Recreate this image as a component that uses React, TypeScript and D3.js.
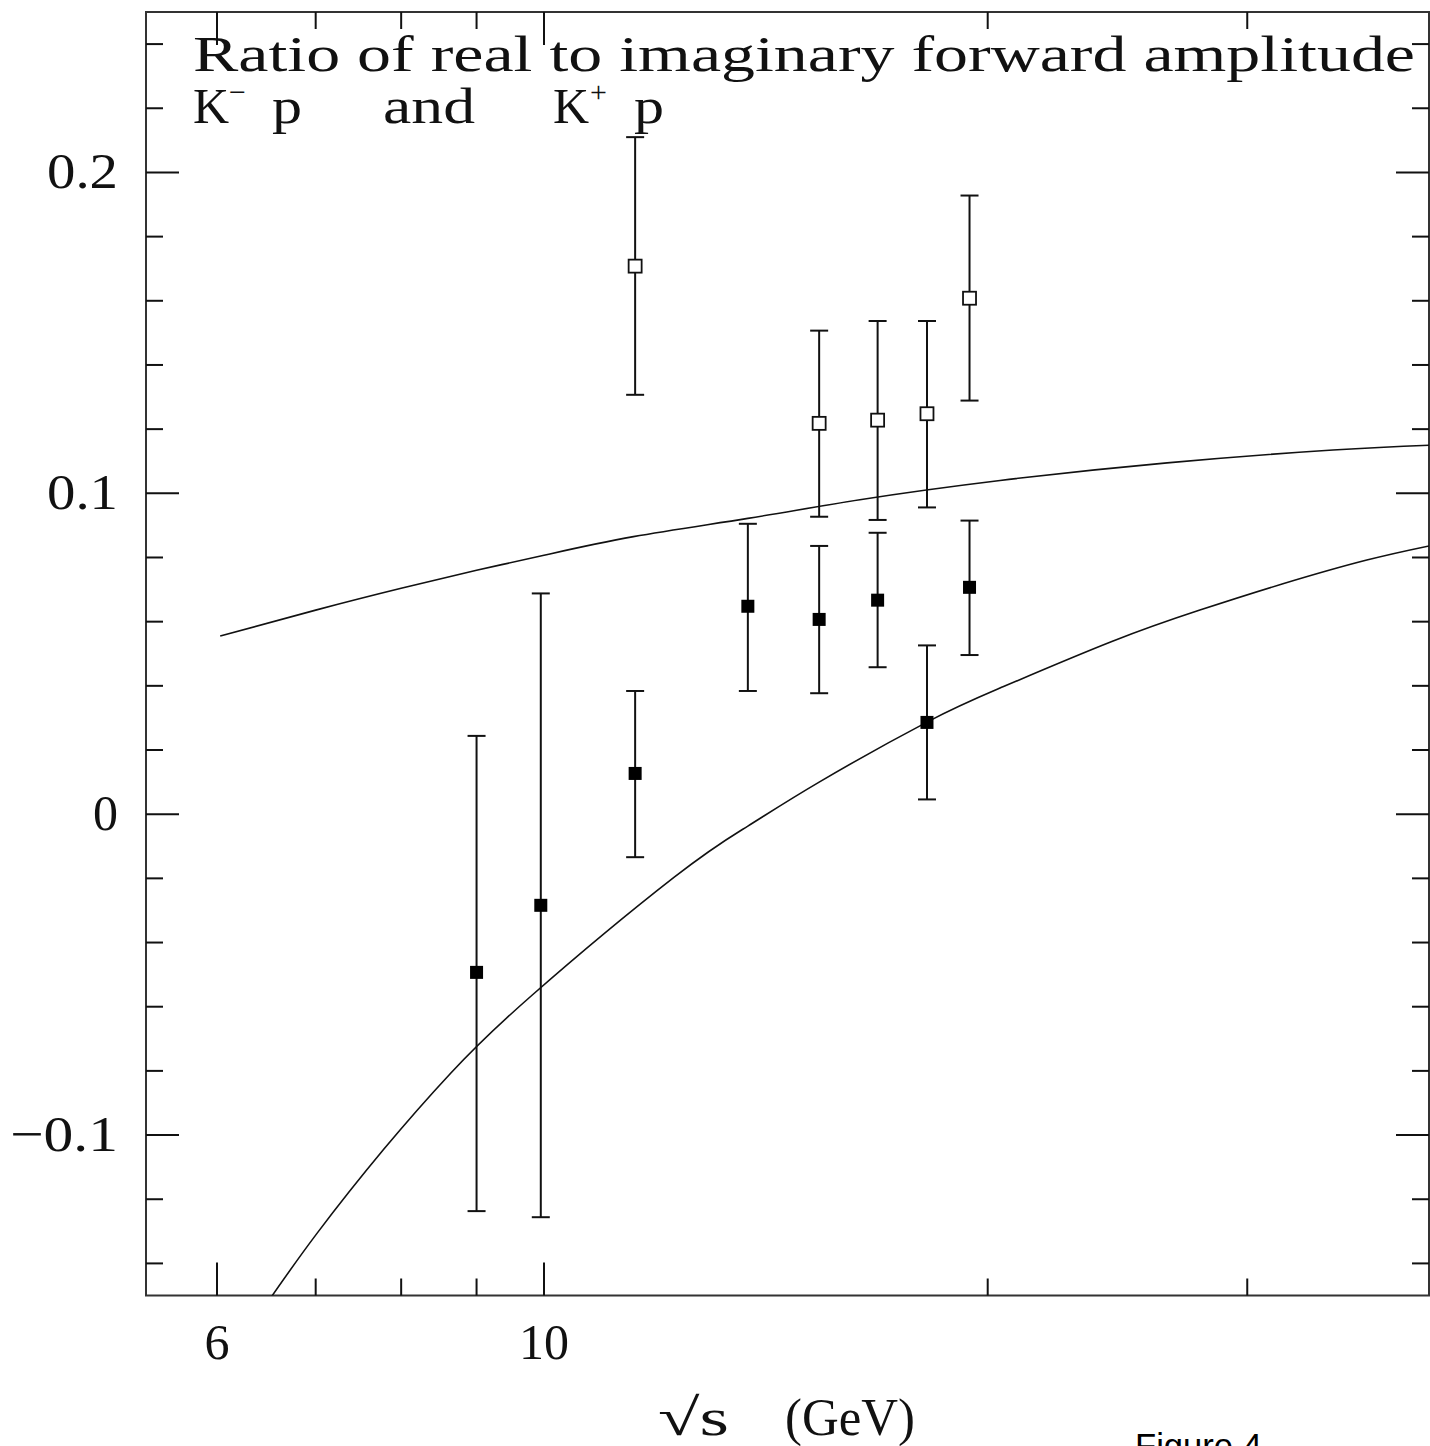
import React from 'react';
import * as d3 from 'd3';

// sqrt(s) in GeV for the measured points
const solidS = [9.0, 9.95, 11.53, 13.75, 15.37, 16.84, 18.19, 19.44];
const solidRho = [-0.0493, -0.0284, 0.0127, 0.0648, 0.0607, 0.0667, 0.0286, 0.0707];
const solidHi = [0.0244, 0.0688, 0.0384, 0.0905, 0.0836, 0.0877, 0.0526, 0.0915];
const solidLo = [-0.1237, -0.1256, -0.0134, 0.0384, 0.0377, 0.0458, 0.0046, 0.0496];

const openS = [11.53, 15.37, 16.84, 18.19, 19.44];
const openRho = [0.1708, 0.1218, 0.1228, 0.1248, 0.1608];
const openHi = [0.211, 0.1507, 0.1537, 0.1537, 0.1928];
const openLo = [0.1307, 0.0927, 0.0917, 0.0956, 0.1289];

// model curves
const upperS = [6.03, 7.0, 8.0, 9.0, 10.0, 11.5, 13.75, 16.38, 20.39, 26.47, 34.3, 39.85];
const upperRho = [0.0555, 0.0636, 0.0704, 0.076, 0.0807, 0.0865, 0.0922, 0.098, 0.104, 0.1095, 0.1135, 0.115];
const lowerS = [6.53, 7.01, 7.78, 8.64, 9.81, 12.25, 13.75, 15.37, 18.19, 20.39, 24.28, 27.86, 31.72, 36.16, 39.85];
const lowerRho = [-0.1505, -0.1308, -0.1046, -0.0808, -0.0565, -0.0197, -0.0037, 0.01, 0.0287, 0.0393, 0.0538, 0.0636, 0.0718, 0.0792, 0.0836];

const xMajor = [6, 10];
const xMinor = [7, 8, 9, 20, 30];
const yMajor = [-0.1, 0, 0.1, 0.2];
const yLabels = ['\u22120.1', '0', '0.1', '0.2'];
const yLabelWidths = [108, 25, 71, 71];

const W = 1430;
const H = 1446;
const left = 146, right = 1429, top = 12, bottom = 1295.5;
const FONT = '"Liberation Serif", "Times New Roman", serif';

const App: React.FC = () => {
  const x = d3.scaleLog().domain([5.37, 39.85]).range([left, right]);
  const y = d3.scaleLinear().domain([-0.15, 0.25]).range([bottom, top]);

  const yAll = d3.range(-7, 13).map(i => Math.round(i * 2) / 100);

  const line = d3.line<[number, number]>()
    .x(d => x(d[0]))
    .y(d => y(d[1]))
    .curve(d3.curveNatural);

  const upper = line(upperS.map((s, i) => [s, upperRho[i]] as [number, number])) || '';
  const lower = line(lowerS.map((s, i) => [s, lowerRho[i]] as [number, number])) || '';

  const cap = 9;
  const sq = 13;
  const major = 33;
  const minor = 17;
  const ink = '#111';

  const errorBars = (ss: number[], hi: number[], lo: number[], key: string) =>
    ss.map((s, i) => (
      <g key={key + i} stroke={ink} strokeWidth={2}>
        <line x1={x(s)} x2={x(s)} y1={y(hi[i])} y2={y(lo[i])} />
        <line x1={x(s) - cap} x2={x(s) + cap} y1={y(hi[i])} y2={y(hi[i])} />
        <line x1={x(s) - cap} x2={x(s) + cap} y1={y(lo[i])} y2={y(lo[i])} />
      </g>
    ));

  return (
    <svg width={W} height={H} style={{ position: 'absolute', left: 0, top: 0, background: '#fff' }}>
      <defs>
        <clipPath id="plot">
          <rect x={left} y={top} width={right - left} height={bottom - top} />
        </clipPath>
      </defs>

      {/* frame */}
      <rect x={left} y={top} width={right - left} height={bottom - top} fill="none" stroke="#333" strokeWidth={2} />

      {/* x ticks, bottom and top */}
      {xMajor.concat(xMinor).map(v => {
        const len = xMajor.includes(v) ? major : minor;
        return (
          <g key={'xt' + v} stroke={ink} strokeWidth={2}>
            <line x1={x(v)} x2={x(v)} y1={bottom} y2={bottom - len} />
            <line x1={x(v)} x2={x(v)} y1={top} y2={top + len} />
          </g>
        );
      })}

      {/* y ticks, left and right */}
      {yAll.map(v => {
        const len = yMajor.some(m => Math.abs(m - v) < 1e-6) ? major : minor;
        return (
          <g key={'yt' + v} stroke={ink} strokeWidth={2}>
            <line x1={left} x2={left + len} y1={y(v)} y2={y(v)} />
            <line x1={right} x2={right - len} y1={y(v)} y2={y(v)} />
          </g>
        );
      })}

      {/* tick labels */}
      {xMajor.map(v => (
        <text key={'xl' + v} x={x(v)} y={1359} textAnchor="middle" fontFamily={FONT} fontSize={50} fill={ink}>
          {String(v)}
        </text>
      ))}
      {yMajor.map((v, i) => (
        <text key={'yl' + v} x={118 - yLabelWidths[i]} y={y(v) + 16} fontFamily={FONT} fontSize={50} fill={ink}
          textLength={yLabelWidths[i]} lengthAdjust="spacingAndGlyphs">
          {yLabels[i]}
        </text>
      ))}

      {/* model curves */}
      <g clipPath="url(#plot)" fill="none" stroke={ink} strokeWidth={1.6}>
        <path d={upper} />
        <path d={lower} />
      </g>

      {/* data */}
      {errorBars(solidS, solidHi, solidLo, 's')}
      {errorBars(openS, openHi, openLo, 'o')}
      {solidS.map((s, i) => (
        <rect key={'sq' + i} x={x(s) - sq / 2} y={y(solidRho[i]) - sq / 2} width={sq} height={sq} fill="#000" />
      ))}
      {openS.map((s, i) => (
        <rect key={'oq' + i} x={x(s) - sq / 2} y={y(openRho[i]) - sq / 2} width={sq} height={sq}
          fill="#fff" stroke={ink} strokeWidth={1.8} />
      ))}

      {/* title */}
      <g fontFamily={FONT} fill={ink}>
        <text x={193} y={71} fontSize={50} textLength={1222} lengthAdjust="spacingAndGlyphs">
          Ratio of real to imaginary forward amplitude
        </text>
        <text fontSize={50}>
          <tspan x={193} y={123}>K</tspan>
          <tspan x={229} y={102} fontSize={30}>{'\u2212'}</tspan>
          <tspan x={272} y={123} textLength={30} lengthAdjust="spacingAndGlyphs">p</tspan>
          <tspan x={383} y={123} textLength={92} lengthAdjust="spacingAndGlyphs">and</tspan>
          <tspan x={553} y={123}>K</tspan>
          <tspan x={590} y={102} fontSize={30}>+</tspan>
          <tspan x={634} y={123} textLength={30} lengthAdjust="spacingAndGlyphs">p</tspan>
        </text>
      </g>

      {/* axis label */}
      <g fontFamily={FONT} fill={ink}>
        <text x={658} y={1435} fontSize={52} textLength={71} lengthAdjust="spacingAndGlyphs">{'\u221As'}</text>
        <text x={785} y={1435} fontSize={52} textLength={130} lengthAdjust="spacingAndGlyphs">(GeV)</text>
      </g>

      <text x={1135} y={1458} fontFamily='"Liberation Sans", Arial, sans-serif' fontSize={35} fill="#000"
        textLength={127} lengthAdjust="spacingAndGlyphs">
        Figure 4
      </text>
    </svg>
  );
};

export default App;
